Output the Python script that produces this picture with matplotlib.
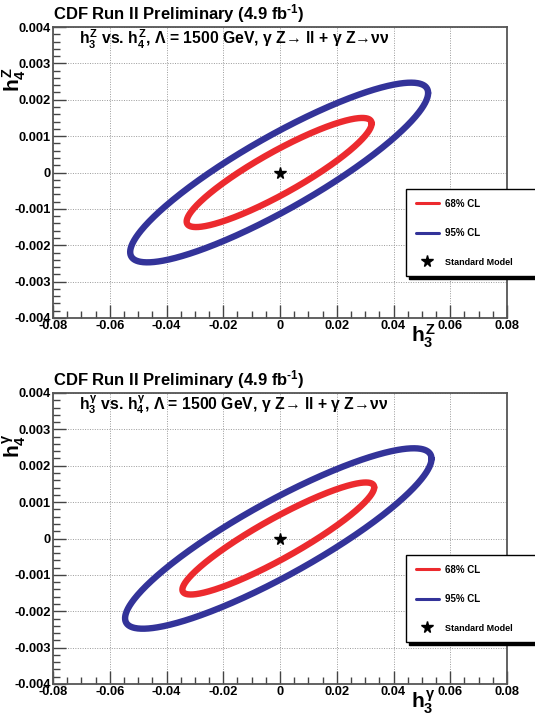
import numpy as np
import matplotlib.pyplot as plt
from matplotlib.ticker import MultipleLocator

plt.rcParams['font.family'] = ['Liberation Sans', 'DejaVu Sans']
plt.rcParams['font.weight'] = 'bold'
plt.rcParams['mathtext.fontset'] = 'custom'
plt.rcParams['mathtext.rm'] = 'Liberation Sans:bold'
plt.rcParams['mathtext.it'] = 'Liberation Sans:bold'
plt.rcParams['mathtext.bf'] = 'Liberation Sans:bold'
plt.rcParams['mathtext.fallback'] = 'stixsans'
plt.rcParams['axes.unicode_minus'] = False

# couplings shown in the two panels (top: Z, bottom: photon)
couplings = ['Z', r'\gamma']
cl_labels = ['68% CL', '95% CL']
cl_colors = ['#ec2a2e', '#333399']
# contour shapes, per panel [68%, 95%]:
# half width along h3, half height along h4, h4 where contour crosses h3=0
half_h3 = [[0.0326, 0.0525], [0.0338, 0.0540]]
half_h4 = [[0.00150, 0.00247], [0.00154, 0.00248]]
h4_at_0 = [[0.00066, 0.00115], [0.00063, 0.00116]]
centre_h3 = [-0.0003, -0.0006]
sm_h3 = [0.0]
sm_h4 = [0.0]

W, H = 535, 720
fig = plt.figure(figsize=(W / 100, H / 100), dpi=100)

tops = [27, 393]   # pixel row of the top of each frame
ax_h = 291

for p, c in enumerate(couplings):
    top = tops[p]
    ax = fig.add_axes([53 / W, 1 - (top + ax_h) / H, 454 / W, ax_h / H])
    ax.set_xlim(-0.08, 0.08)
    ax.set_ylim(-0.004, 0.004)
    ax.xaxis.set_major_locator(MultipleLocator(0.02))
    ax.xaxis.set_minor_locator(MultipleLocator(0.005))
    ax.yaxis.set_major_locator(MultipleLocator(0.001))
    ax.yaxis.set_minor_locator(MultipleLocator(0.0002))
    ax.xaxis.set_major_formatter(lambda v, pos: '0' if abs(v) < 1e-9 else f'{v:.2f}')
    ax.yaxis.set_major_formatter(lambda v, pos: '0' if abs(v) < 1e-9 else f'{v:.3f}')
    ax.tick_params(which='major', direction='in', length=9.5, width=1, pad=1.5,
                   labelsize=9.3, color='#444444')
    ax.tick_params(which='minor', direction='in', length=5, width=1, color='#444444')
    for lab in ax.get_xticklabels() + ax.get_yticklabels():
        lab.set_fontweight('bold')
    for sp in ax.spines.values():
        sp.set_color('#555555')
        sp.set_linewidth(1.3)
    ax.grid(True, which='major', linestyle=(0, (1, 1.5)), color='#9a9a9a', linewidth=0.7)
    ax.set_axisbelow(True)

    handles = []
    t = np.linspace(0, 2 * np.pi, 500)
    for k in range(2):
        phi = np.arcsin(h4_at_0[p][k] / half_h4[p][k])
        x = centre_h3[p] + half_h3[p][k] * np.cos(t)
        y = half_h4[p][k] * np.cos(t - phi)
        ln, = ax.plot(x, y, color=cl_colors[k], lw=4.6, solid_capstyle='round',
                      label=cl_labels[k])
        handles.append(ln)
    sm, = ax.plot(sm_h3, sm_h4, ls='none', marker='*', ms=8.5, color='black',
                  label='Standard Model')
    handles.append(sm)

    leg = ax.legend(handles=handles, loc='upper left',
                    bbox_to_anchor=(406 / W, 1 - (top + 162) / H, 150 / W, 0),
                    bbox_transform=fig.transFigure, mode='expand', borderaxespad=0,
                    fontsize=7, handlelength=2.4, handletextpad=0.6,
                    labelspacing=2.0, borderpad=1.0, fancybox=False,
                    shadow={'color': 'black', 'alpha': 1, 'ox': 2, 'oy': -2},
                    framealpha=1, edgecolor='black')
    leg.get_frame().set_linewidth(1.0)
    for ln in leg.get_lines():
        ln.set_linewidth(2.2)
    leg.get_texts()[2].set_fontsize(6.5)

    fig.text(53 / W, 1 - (top - 13) / H, r'CDF Run II Preliminary (4.9 fb$^{\text{-1}}$)',
             fontsize=12, fontweight='bold', ha='left', va='center')
    ax.text(26 / 454, 1 - 12 / ax_h,
            rf'$h_3^{{{c}}}$ vs. $h_4^{{{c}}}$, $\Lambda$ = 1500 GeV, $\gamma$ Z→ ll + $\gamma$ Z→$\nu\nu$',
            transform=ax.transAxes, fontsize=11.3, fontweight='bold', ha='left', va='center')
    ax.text(370 / 454, -18 / ax_h, rf'$h_3^{{{c}}}$', transform=ax.transAxes,
            fontsize=15, ha='center', va='center')
    ax.text(-39 / 454, 1 - 53 / ax_h, rf'$h_4^{{{c}}}$', transform=ax.transAxes,
            fontsize=15, ha='center', va='center', rotation=90)

fig.savefig('out.png', dpi=100)
